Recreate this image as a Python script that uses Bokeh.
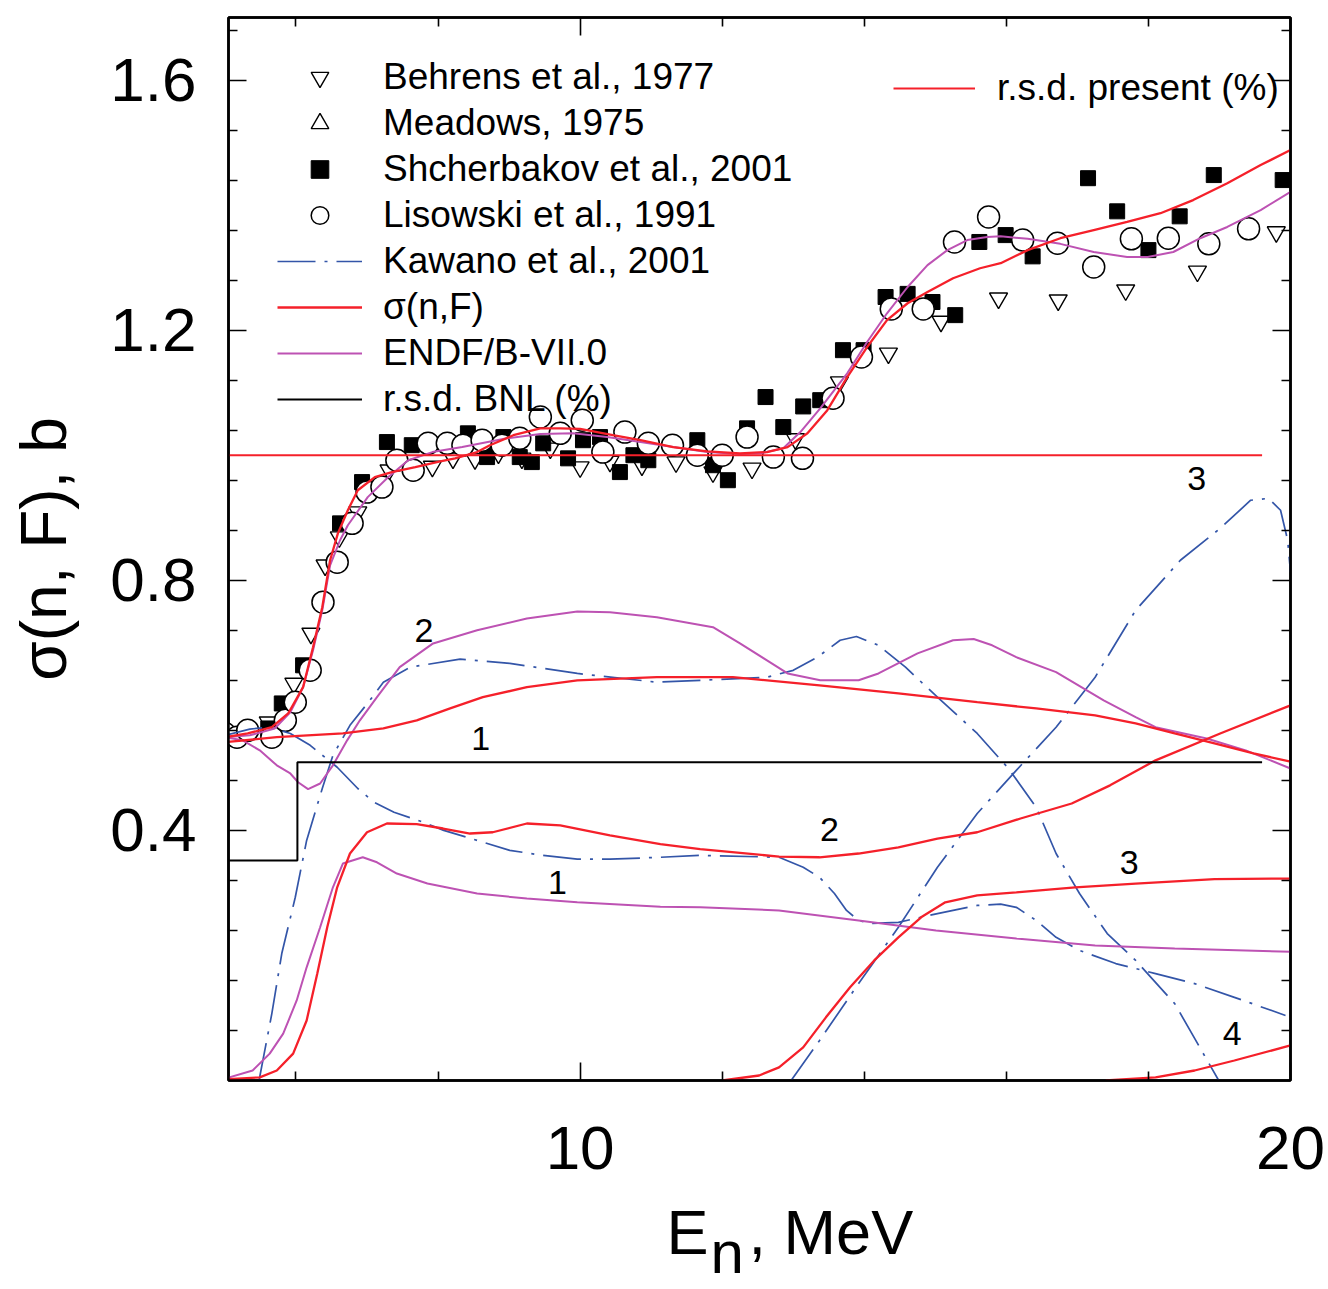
import numpy as np
from bokeh.plotting import figure
from bokeh.models import (Range1d, LinearAxis, FixedTicker, Legend, LegendItem)
from bokeh.core.properties import value
from bokeh.embed import file_html
from bokeh.resources import INLINE

# ---------------- experimental data (E in MeV, sigma in b) ----------------
# Behrens et al., 1977
beh_e = [5.61, 5.97, 6.21, 6.41, 6.61, 6.87, 7.31, 7.92, 8.21, 8.52, 8.85, 9.18, 9.58,
         10.00, 10.42, 10.87, 11.35, 11.87, 12.42, 13.03, 13.65, 14.34, 15.08, 15.89,
         16.73, 17.68, 18.69, 19.80]
beh_s = [0.573, 0.635, 0.715, 0.824, 0.869, 0.909, 0.976, 0.982, 0.995, 0.994, 1.003, 0.995,
         1.011, 0.981, 0.990, 0.984, 0.989, 0.973, 0.979, 1.026, 1.117, 1.163, 1.214, 1.251,
         1.248, 1.264, 1.294, 1.357]

# Meadows, 1975
mea_e = [5.32, 5.85, 6.20]
mea_s = [0.560, 0.576, 0.656]

# Shcherbakov et al., 2001
shc_e = [4.96, 5.61, 5.80, 6.10, 6.62, 6.93, 7.28, 7.63, 8.42, 8.69, 8.92, 9.15, 9.32, 9.48,
         9.83, 10.04, 10.28, 10.56, 10.75, 10.96, 11.65, 11.87, 12.08, 12.35, 12.61, 12.86,
         13.14, 13.38, 13.70, 13.99, 14.30, 14.61, 14.96, 15.28, 15.62, 15.99, 16.37, 17.15,
         17.56, 18.00, 18.44, 18.92, 19.89]
shc_s = [0.549, 0.563, 0.603, 0.664, 0.891, 0.957, 1.021, 1.016, 1.035, 0.997, 1.029, 0.997,
         0.989, 1.019, 0.995, 1.024, 1.029, 0.973, 1.000, 0.992, 1.024, 0.984, 0.960, 1.043,
         1.093, 1.045, 1.078, 1.088, 1.168, 1.168, 1.253, 1.258, 1.245, 1.224, 1.341, 1.352,
         1.318, 1.443, 1.390, 1.328, 1.382, 1.448, 1.440]

# Lisowski et al., 1991
lis_e = [5.00, 5.17, 5.32, 5.66, 5.85, 5.99, 6.20, 6.38, 6.58, 6.79, 7.00, 7.21, 7.42, 7.65,
         7.86, 8.13, 8.35, 8.62, 8.90, 9.15, 9.44, 9.72, 10.03, 10.32, 10.63, 10.96, 11.30,
         11.65, 12.00, 12.35, 12.72, 13.13, 13.56, 13.96, 14.38, 14.83, 15.27, 15.75, 16.23,
         16.72, 17.23, 17.76, 18.28, 18.85, 19.41]
lis_s = [0.555, 0.549, 0.560, 0.549, 0.576, 0.605, 0.656, 0.765, 0.829, 0.891, 0.941, 0.949,
         0.992, 0.976, 1.019, 1.019, 1.016, 1.024, 1.016, 1.027, 1.061, 1.035, 1.056, 1.005,
         1.037, 1.019, 1.016, 1.000, 1.000, 1.029, 0.997, 0.995, 1.091, 1.157, 1.234, 1.234,
         1.341, 1.381, 1.344, 1.339, 1.301, 1.346, 1.347, 1.338, 1.362]

# ---------------- evaluated curves ----------------
# present sigma(n,F), total
tot_e = [5.00, 5.32, 5.66, 5.89, 6.10, 6.24, 6.37, 6.48, 6.59, 6.73, 6.87, 7.11, 7.35, 7.68,
         8.03, 8.24, 8.55, 8.73, 9.06, 9.44, 9.72, 10.00, 10.46, 10.85, 11.31, 11.79, 12.25,
         12.63, 12.92, 13.20, 13.48, 13.76, 14.04, 14.32, 14.61, 14.89, 15.25, 15.63, 15.92,
         16.30, 16.76, 17.23, 17.70, 18.17, 18.63, 19.11, 19.58, 20.00]
tot_s = [0.549, 0.555, 0.565, 0.587, 0.629, 0.693, 0.757, 0.832, 0.875, 0.912, 0.944, 0.965,
         0.973, 0.981, 0.990, 0.995, 1.005, 1.016, 1.032, 1.043, 1.043, 1.042, 1.032, 1.024,
         1.013, 1.006, 1.003, 1.005, 1.013, 1.035, 1.072, 1.125, 1.173, 1.216, 1.243, 1.261,
         1.283, 1.299, 1.307, 1.328, 1.347, 1.360, 1.373, 1.387, 1.408, 1.435, 1.464, 1.488]

# present fission chances 1..4
ch1_e = [5.00, 5.73, 6.66, 7.23, 7.70, 8.17, 8.63, 9.25, 9.96, 11.08, 12.15, 13.37, 14.48,
         15.59, 16.42, 17.25, 17.82, 18.37, 18.93, 19.48, 20.00]
ch1_s = [0.541, 0.549, 0.555, 0.563, 0.576, 0.595, 0.613, 0.629, 0.640, 0.645, 0.645, 0.632,
         0.619, 0.605, 0.595, 0.584, 0.571, 0.555, 0.539, 0.523, 0.510]
ch2_e = [5.00, 5.49, 5.73, 5.96, 6.15, 6.30, 6.44, 6.58, 6.76, 7.00, 7.28, 7.70, 8.07, 8.45,
         8.77, 9.25, 9.72, 10.42, 11.13, 11.69, 12.80, 13.37, 13.92, 14.48, 15.03, 15.59,
         16.20, 16.92, 17.46, 18.10, 19.01, 20.00]
ch2_s = [0.002, 0.005, 0.016, 0.043, 0.096, 0.171, 0.245, 0.309, 0.363, 0.397, 0.411, 0.410,
         0.403, 0.395, 0.397, 0.411, 0.408, 0.392, 0.378, 0.370, 0.358, 0.357, 0.363, 0.373,
         0.387, 0.397, 0.419, 0.443, 0.472, 0.512, 0.555, 0.600]
ch3_e = [12.00, 12.52, 12.80, 13.14, 13.46, 13.80, 14.14, 14.48, 14.80, 15.14, 15.59, 16.14,
         16.97, 17.82, 18.93, 20.00]
ch3_s = [0.000, 0.008, 0.021, 0.053, 0.101, 0.149, 0.192, 0.229, 0.261, 0.285, 0.296, 0.301,
         0.309, 0.315, 0.322, 0.323]
ch4_e = [17.40, 18.10, 18.65, 19.21, 20.00]
ch4_s = [0.000, 0.005, 0.016, 0.032, 0.056]

# ENDF/B-VII.0: total and two partial components
endf_e = [5.00, 5.35, 5.70, 5.92, 6.10, 6.24, 6.37, 6.48, 6.62, 6.73, 7.01, 7.30, 7.58, 7.92,
          8.34, 8.97, 9.44, 9.90, 10.38, 10.85, 11.31, 11.79, 12.25, 12.54, 12.86, 13.10,
          13.38, 13.76, 14.04, 14.32, 14.61, 14.89, 15.17, 15.45, 15.73, 15.92, 16.30, 16.76,
          17.23, 17.70, 17.99, 18.35, 18.73, 19.11, 19.58, 20.00]
endf_s = [0.549, 0.552, 0.563, 0.589, 0.629, 0.688, 0.752, 0.824, 0.864, 0.888, 0.933, 0.965,
          0.992, 1.005, 1.013, 1.027, 1.034, 1.035, 1.029, 1.021, 1.013, 1.005, 1.002, 1.003,
          1.011, 1.037, 1.075, 1.131, 1.181, 1.227, 1.269, 1.304, 1.328, 1.344, 1.349, 1.350,
          1.346, 1.338, 1.325, 1.317, 1.317, 1.325, 1.347, 1.365, 1.392, 1.421]
endfa_e = [5.00, 5.25, 5.49, 5.73, 5.92, 6.03, 6.17, 6.34, 6.52, 6.72, 6.90, 7.14, 7.46, 7.93,
           8.55, 9.25, 9.96, 10.42, 11.08, 11.87, 12.25, 12.63, 12.92, 13.38, 13.92, 14.20,
           14.75, 15.25, 15.54, 15.80, 16.14, 16.70, 17.37, 17.82, 18.10, 18.82, 19.37, 20.00]
endfa_s = [0.549, 0.544, 0.528, 0.504, 0.491, 0.477, 0.466, 0.475, 0.504, 0.544, 0.576, 0.613,
           0.661, 0.699, 0.720, 0.739, 0.750, 0.749, 0.741, 0.725, 0.699, 0.672, 0.651, 0.640,
           0.640, 0.651, 0.683, 0.704, 0.706, 0.696, 0.677, 0.653, 0.608, 0.581, 0.565, 0.547,
           0.528, 0.499]
endfb_e = [5.00, 5.39, 5.63, 5.82, 6.01, 6.15, 6.34, 6.52, 6.66, 6.94, 7.14, 7.42, 7.85, 8.55,
           9.25, 9.96, 11.13, 11.69, 12.80, 13.92, 15.01, 16.14, 17.25, 18.37, 20.00]
endfb_s = [0.003, 0.016, 0.043, 0.075, 0.128, 0.181, 0.245, 0.309, 0.347, 0.357, 0.349, 0.331,
           0.315, 0.299, 0.291, 0.285, 0.278, 0.277, 0.272, 0.256, 0.240, 0.227, 0.216, 0.211,
           0.206]

# Kawano et al., 2001: three chance components
kaw1_e = [5.00, 5.35, 5.63, 5.92, 6.20, 6.58, 6.87, 7.10, 7.38, 7.72, 8.08, 8.55, 9.01, 9.48,
          9.96, 10.42, 11.13, 11.69, 12.80, 13.14, 13.37, 13.58, 13.75, 13.92, 14.08, 14.48,
          15.03, 15.59, 15.92, 16.14, 16.42, 16.70, 17.03, 17.54, 18.10, 18.65, 19.21, 19.93]
kaw1_s = [0.552, 0.562, 0.565, 0.555, 0.536, 0.501, 0.467, 0.445, 0.429, 0.416, 0.400, 0.384,
          0.368, 0.360, 0.354, 0.354, 0.357, 0.360, 0.357, 0.341, 0.325, 0.299, 0.272, 0.256,
          0.251, 0.253, 0.267, 0.280, 0.282, 0.277, 0.256, 0.229, 0.208, 0.187, 0.171, 0.155,
          0.133, 0.104]
kaw2_e = [5.48, 5.66, 5.80, 5.99, 6.15, 6.37, 6.52, 6.76, 7.04, 7.23, 7.61, 8.31, 9.01, 9.96,
          11.08, 11.69, 12.63, 13.00, 13.34, 13.66, 13.89, 14.20, 14.58, 15.03, 15.59, 16.03,
          16.42, 16.70, 17.03, 17.42, 17.82, 18.37, 18.99]
kaw2_s = [0.000, 0.107, 0.203, 0.293, 0.384, 0.467, 0.520, 0.568, 0.608, 0.637, 0.661, 0.674,
          0.667, 0.651, 0.637, 0.640, 0.645, 0.656, 0.677, 0.704, 0.710, 0.696, 0.661, 0.613,
          0.555, 0.499, 0.437, 0.363, 0.299, 0.235, 0.192, 0.123, 0.000]
kaw3_e = [12.97, 13.37, 13.92, 14.48, 15.03, 15.59, 16.14, 16.70, 17.25, 17.82, 18.45, 19.01,
          19.44, 19.69, 19.86, 19.96, 20.00]
kaw3_s = [0.000, 0.064, 0.155, 0.245, 0.341, 0.427, 0.496, 0.565, 0.645, 0.752, 0.832, 0.883,
          0.928, 0.931, 0.912, 0.864, 0.813]

# relative standard deviations
rsd_bnl_e = [5.00, 6.02, 6.02, 19.60]
rsd_bnl_v = [0.352, 0.352, 0.509, 0.509]
rsd_pres_e = [5.00, 19.60]
rsd_pres_v = [1.00, 1.00]

# curve tags
tag_e = [7.80, 8.60, 13.51, 9.68, 18.68, 17.73, 19.18]
tag_s = [0.720, 0.547, 0.402, 0.317, 0.963, 0.349, 0.075]
tag_t = ["2", "1", "2", "1", "3", "3", "4"]

x_major = [10, 20]
x_minor = [6, 8, 12, 14, 16, 18]
y_major = [0.4, 0.8, 1.2, 1.6]
y_minor = [0.08, 0.16, 0.24, 0.32, 0.48, 0.56, 0.64, 0.72, 0.88, 0.96, 1.04, 1.12,
           1.28, 1.36, 1.44, 1.52, 1.68]

# energy-axis title, placed as labels along the x scale: "E", subscript "n", ", MeV"
title_main_at = [11.51, 13.53]
title_main_txt = ["E", ", MeV"]
title_sub_at = [12.07]
title_sub_txt = ["n"]

RED = "#f5202a"
MAG = "#bd52b3"
BLUE = "#3355a8"
FONT = "Liberation Sans"

p = figure(width=1328, height=1289, x_range=Range1d(5.05, 20), y_range=Range1d(0, 1.7),
           output_backend="svg", toolbar_location=None, title=None,
           x_axis_type=None, y_axis_type=None,
           min_border_left=228, min_border_right=38, min_border_top=17, min_border_bottom=209)
p.background_fill_color = "white"
p.border_fill_color = "white"
p.outline_line_color = "black"
p.outline_line_width = 2.5
p.grid.visible = False


def make_axis(major, minor, show_labels, size):
    ax = LinearAxis(ticker=FixedTicker(ticks=major, minor_ticks=minor))
    ax.axis_line_color = "black"
    ax.axis_line_width = 2.5
    ax.major_tick_in = 18
    ax.major_tick_out = 0
    ax.minor_tick_in = 9
    ax.minor_tick_out = 0
    ax.major_tick_line_width = 1.6
    ax.minor_tick_line_width = 1.6
    ax.major_tick_line_color = "black"
    ax.minor_tick_line_color = "black"
    ax.major_label_text_font = FONT
    if show_labels:
        ax.major_label_text_font_size = size
        ax.major_label_text_color = "black"
    else:
        ax.major_label_text_font_size = "1px"
        ax.major_label_text_alpha = 0
        ax.major_label_standoff = 0
    return ax


def text_axis(ticks, texts, size, standoff):
    # an axis used only to carry text at chosen positions along x
    ax = LinearAxis(ticker=FixedTicker(ticks=ticks, minor_ticks=[]))
    ax.major_label_overrides = {t: s for t, s in zip(ticks, texts)}
    ax.axis_line_color = None
    ax.major_tick_line_color = None
    ax.minor_tick_line_color = None
    ax.major_tick_in = 0
    ax.major_tick_out = 0
    ax.minor_tick_in = 0
    ax.minor_tick_out = 0
    ax.major_label_text_font = FONT
    ax.major_label_text_font_size = size
    ax.major_label_text_color = "black"
    ax.major_label_standoff = standoff
    return ax


xb = make_axis(x_major, x_minor, True, "62px")
xb.major_label_standoff = 46
p.add_layout(xb, "below")
p.add_layout(text_axis(title_main_at, title_main_txt, "63px", 25), "below")
p.add_layout(text_axis(title_sub_at, title_sub_txt, "60px", -51), "below")

xt = make_axis(x_major, x_minor, False, None)
p.add_layout(xt, "above")
yl = make_axis(y_major, y_minor, True, "62px")
yl.major_label_standoff = 32
yl.axis_label = "σ(n, F), b"
yl.axis_label_text_font = FONT
yl.axis_label_text_font_size = "64px"
yl.axis_label_text_font_style = "normal"
yl.axis_label_text_color = "black"
yl.axis_label_standoff = 27
p.add_layout(yl, "left")
yr = make_axis(y_major, y_minor, False, None)
p.add_layout(yr, "right")

# markers first, curves drawn over them
r_beh = p.scatter(beh_e, beh_s, marker="inverted_triangle", size=18, fill_color="white",
                  line_color="black", line_width=1.4)
r_mea = p.scatter(mea_e, mea_s, marker="triangle", size=16, fill_color="white",
                  line_color="black", line_width=1.4)
r_shc = p.scatter(shc_e, shc_s, marker="square", size=15, fill_color="black",
                  line_color="black", line_width=1)
r_lis = p.scatter(lis_e, lis_s, marker="circle", size=22, fill_color="white",
                  line_color="black", line_width=1.5)

dash = "38 9 3 9"
r_kaw = p.line(kaw1_e, kaw1_s, line_color=BLUE, line_width=1.7, line_dash=dash)
p.line(kaw2_e, kaw2_s, line_color=BLUE, line_width=1.7, line_dash=dash)
p.line(kaw3_e, kaw3_s, line_color=BLUE, line_width=1.7, line_dash=dash)

r_endf = p.line(endf_e, endf_s, line_color=MAG, line_width=2)
p.line(endfa_e, endfa_s, line_color=MAG, line_width=2)
p.line(endfb_e, endfb_s, line_color=MAG, line_width=2)

r_tot = p.line(tot_e, tot_s, line_color=RED, line_width=2.3)
for ex, sy in ((ch1_e, ch1_s), (ch2_e, ch2_s), (ch3_e, ch3_s), (ch4_e, ch4_s)):
    p.line(ex, sy, line_color=RED, line_width=2.3)

r_bnl = p.line(rsd_bnl_e, rsd_bnl_v, line_color="black", line_width=2)
r_pres = p.line(rsd_pres_e, rsd_pres_v, line_color=RED, line_width=2)

p.text(tag_e, tag_s, text=tag_t, text_font=value(FONT), text_font_size="34px",
       text_align="center", text_baseline="middle", text_color="black")

leg = Legend(items=[
    LegendItem(label="Behrens et al., 1977", renderers=[r_beh]),
    LegendItem(label="Meadows, 1975", renderers=[r_mea]),
    LegendItem(label="Shcherbakov et al., 2001", renderers=[r_shc]),
    LegendItem(label="Lisowski et al., 1991", renderers=[r_lis]),
    LegendItem(label="Kawano et al., 2001", renderers=[r_kaw]),
    LegendItem(label="σ(n,F)", renderers=[r_tot]),
    LegendItem(label="ENDF/B-VII.0", renderers=[r_endf]),
    LegendItem(label="r.s.d. BNL (%)", renderers=[r_bnl]),
], location=(49, 659))
leg2 = Legend(items=[LegendItem(label="r.s.d. present (%)", renderers=[r_pres])],
              location=(665, 970))
for lg, stand, gw in ((leg, 21, 85), (leg2, 22, 82)):
    lg.glyph_width = gw
    lg.glyph_height = 44
    lg.label_height = 44
    lg.spacing = 2
    lg.padding = 0
    lg.margin = 0
    lg.label_standoff = stand
    lg.border_line_color = None
    lg.background_fill_alpha = 0
    lg.label_text_font = FONT
    lg.label_text_font_size = "37px"
    lg.label_text_color = "black"
    p.add_layout(lg)

open("out.html", "w").write(file_html(p, INLINE))
